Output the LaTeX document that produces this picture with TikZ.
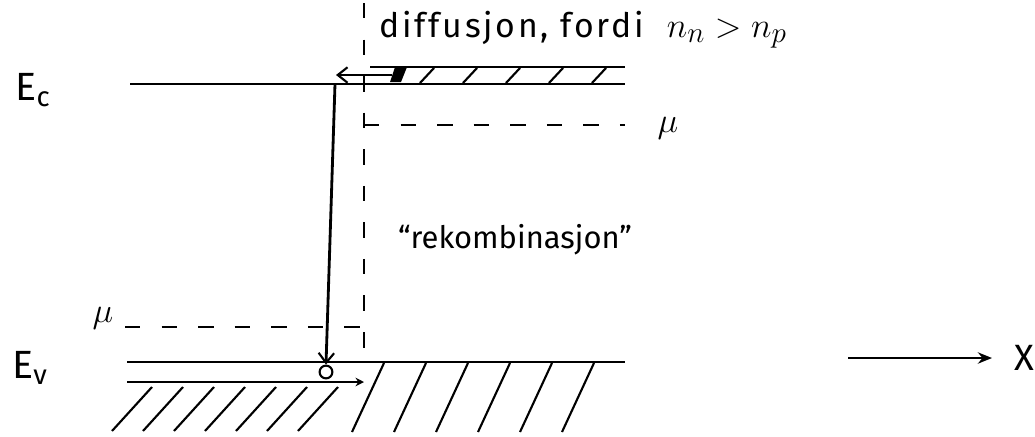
\documentclass[tikz,border=0pt]{standalone}
\usepackage{fontspec}
\setmainfont{Fira Sans}
\usetikzlibrary{arrows.meta}
\tikzset{
  lbl/.style={font=\fontsize{22}{26}\selectfont, inner sep=1pt},
  biglbl/.style={font=\fontsize{32}{34}\selectfont, inner sep=1pt},
  level/.style={line width=2pt},
  hatch/.style={line width=1.5pt},
  fermi/.style={line width=1.8pt, dash pattern=on 11pt off 15pt},
  barb/.style={-{Straight Barb[length=7pt,width=11pt,line width=1.5pt]}},
}

\begin{document}
\begin{tikzpicture}[x=0.025cm, y=-0.025cm]
  \useasboundingbox (0,0) rectangle (1035,436);
  % labels
  \node[lbl, font=\fontsize{28}{30}\selectfont] (Ec) at (33,90) {E\textsubscript{c}};
  \node[lbl, font=\fontsize{28}{30}\selectfont] (Ev) at (30,368) {E\textsubscript{v}};
  \node[biglbl] (muL) at (103,318) {$\mu$};
  \node[biglbl] (muR) at (668,128) {$\mu$};
  \node[lbl, anchor=base west, font=\fontsize{24}{28}\selectfont] (diff) at (378,37)
    {\addfontfeatures{LetterSpace=8}diffusjon, fordi\ \ {\fontsize{30}{32}\selectfont$n_n > n_p$}};
  \node[lbl] (rek) at (515,240) {``rekombinasjon''};
  \node[lbl, font=\fontsize{26}{28}\selectfont] (xLab) at (1024,358) {X};
  % band edges
  \coordinate (cL) at (130,84);  \coordinate (cR) at (625,84);
  \coordinate (bL) at (370,67);  \coordinate (bR) at (625,67);
  \coordinate (vL) at (127,362); \coordinate (vR) at (625,362);
  \coordinate (pL) at (127,382); \coordinate (pR) at (364,382);
  \draw[level] (cL) -- (cR);
  \draw[level] (bL) -- (bR);
  \draw[level] (vL) -- (vR);
  \draw[level,-{Stealth[length=6pt,width=6pt]}] (pL) -- (pR);
  % hatching
  \fill (390,82) -- (395,67) -- (407,67) -- (401,82) -- cycle;
  \foreach \x in {427,470,...,600}
    \draw[hatch] (\x-7,83) -- (\x+7,68);
  \foreach \x in {384,426,...,630}
    \draw[hatch] (\x,363) -- (\x-32,432);
  \foreach \x in {152,183,...,360}
    \draw[hatch] (\x,387) -- (\x-40,431);
  % quasi fermi levels
  \coordinate (dTop) at (364,3);   \coordinate (dBot) at (364,368);
  \coordinate (mR0) at (364,125);  \coordinate (mR1) at (625,125);
  \coordinate (mL0) at (125,327);  \coordinate (mL1) at (362,327);
  \draw[fermi] (dTop) -- (dBot);
  \draw[fermi] (mR0) -- (mR1);
  \draw[fermi] (mL0) -- (mL1);
  % electron and hole
  \coordinate (blob) at (392,75);  \coordinate (tip) at (336,75);
  \coordinate (eTop) at (335,84);
  \node[circle, draw, line width=1.5pt, minimum size=0.32cm, inner sep=0pt] (hole) at (326,372) {};
  \draw[level,barb] (blob) -- (tip);
  \draw[level,barb] (eTop) -- (hole.north);
  % x axis
  \coordinate (x0) at (848,358);   \coordinate (x1) at (992,358);
  \draw[level,-{Stealth[length=10pt,width=8pt]}] (x0) -- (x1);
\end{tikzpicture}
\end{document}
